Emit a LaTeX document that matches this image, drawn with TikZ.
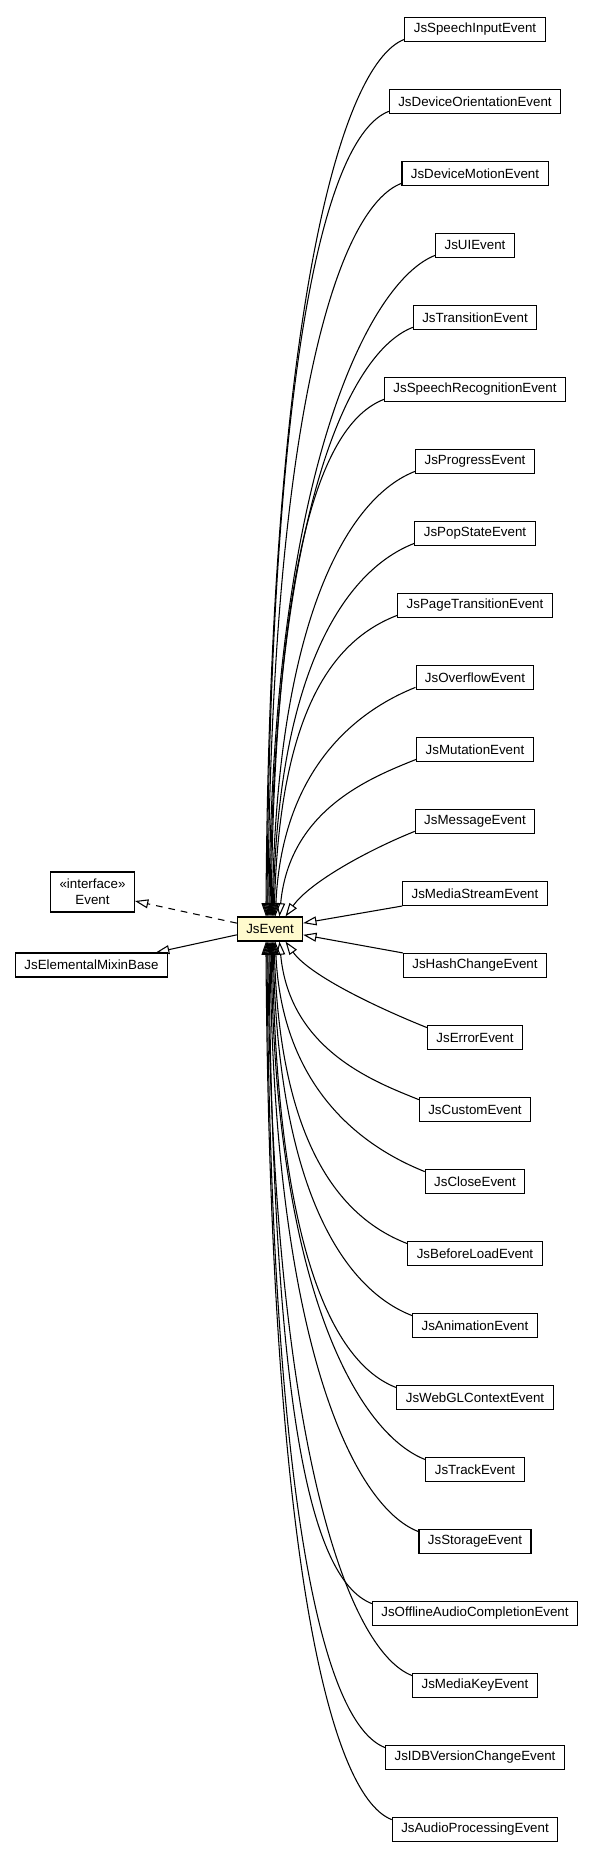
\documentclass[tikz,border=0pt]{standalone}
\usepackage{fontspec}
\setmainfont{Liberation Sans}
\usetikzlibrary{arrows.meta}
\definecolor{EVFocus}{HTML}{FFFACD}

\begin{document}
\begin{tikzpicture}[x=0.75pt,y=0.75pt,
  cls/.style={draw,line width=0.8pt,inner xsep=6.7pt,inner ysep=0pt,minimum height=18pt},
  ext/.style={line width=0.8pt,-{Triangle[open,length=10pt,width=6.7pt]}},
  impl/.style={ext,dash pattern=on 5pt off 4.5pt}]
\path[use as bounding box] (0,0) rectangle (593,1859);
% centre class and its parents
\node[cls,fill=EVFocus] (jsEvent) at (270,930) {JsEvent};
\node[cls,align=center,minimum height=30pt] (ifEvent) at (92.5,967) {«interface»\\Event};
\node[cls] (mixinBase) at (91.5,894) {JsElementalMixinBase};
\draw[impl] (jsEvent.170) -- (ifEvent.348);
\draw[ext] (jsEvent.190) -- (mixinBase.11);
% subclasses, one column
\node[cls] (speechInput) at (475,1829.5) {JsSpeechInputEvent};
\node[cls] (deviceOrient) at (475,1757.5) {JsDeviceOrientationEvent};
\node[cls] (deviceMotion) at (475,1685.5) {JsDeviceMotionEvent};
\node[cls] (uiEvent) at (475,1613.5) {JsUIEvent};
\node[cls] (transition) at (475,1541.5) {JsTransitionEvent};
\node[cls] (speechRecog) at (475,1469.5) {JsSpeechRecognitionEvent};
\node[cls] (progress) at (475,1397.5) {JsProgressEvent};
\node[cls] (popState) at (475,1325.5) {JsPopStateEvent};
\node[cls] (pageTrans) at (475,1253.5) {JsPageTransitionEvent};
\node[cls] (overflow) at (475,1181.5) {JsOverflowEvent};
\node[cls] (mutation) at (475,1109.5) {JsMutationEvent};
\node[cls] (message) at (475,1037.5) {JsMessageEvent};
\node[cls] (mediaStream) at (475,965.5) {JsMediaStreamEvent};
\node[cls] (hashChange) at (475,893.5) {JsHashChangeEvent};
\node[cls] (error) at (475,821.5) {JsErrorEvent};
\node[cls] (custom) at (475,749.5) {JsCustomEvent};
\node[cls] (close) at (475,677.5) {JsCloseEvent};
\node[cls] (beforeLoad) at (475,605.5) {JsBeforeLoadEvent};
\node[cls] (animation) at (475,533.5) {JsAnimationEvent};
\node[cls] (webGL) at (475,461.5) {JsWebGLContextEvent};
\node[cls] (track) at (475,389.5) {JsTrackEvent};
\node[cls] (storage) at (475,317.5) {JsStorageEvent};
\node[cls] (offlineAudio) at (475,245.5) {JsOfflineAudioCompletionEvent};
\node[cls] (mediaKey) at (475,173.5) {JsMediaKeyEvent};
\node[cls] (idbVersion) at (475,101.5) {JsIDBVersionChangeEvent};
\node[cls] (audioProc) at (475,29.5) {JsAudioProcessingEvent};
% upper edges
\draw[ext] ([yshift=2pt]speechInput.south west) .. controls +(-65,-25) and +(4,597) .. (jsEvent.108);
\draw[ext] ([yshift=2pt]deviceOrient.south west) .. controls +(-65,-25) and +(4,548) .. (jsEvent.104);
\draw[ext] ([yshift=2pt]deviceMotion.south west) .. controls +(-65,-25) and +(4,499) .. (jsEvent.100);
\draw[ext] ([yshift=2pt]uiEvent.south west) .. controls +(-65,-25) and +(4,450) .. (jsEvent.95);
\draw[ext] ([yshift=2pt]transition.south west) .. controls +(-65,-25) and +(4,401) .. (jsEvent.90);
\draw[ext] ([yshift=2pt]speechRecog.south west) .. controls +(-65,-25) and +(4,352) .. (jsEvent.85);
\draw[ext] ([yshift=2pt]progress.south west) .. controls +(-65,-25) and +(5,303) .. (jsEvent.80);
\draw[ext] ([yshift=2pt]popState.south west) .. controls +(-65,-25) and +(5,254) .. (jsEvent.76);
\draw[ext] ([yshift=2pt]pageTrans.south west) .. controls +(-65,-25) and +(6,205) .. (jsEvent.72);
\draw[ext] ([yshift=2pt]overflow.south west) .. controls +(-50,-20) and +(7,156) .. (jsEvent.67);
\draw[ext] ([yshift=2pt]mutation.south west) .. controls +(-45,-18) and +(10,107) .. (jsEvent.53);
\draw[ext] ([yshift=2pt]message.south west) .. controls +(-45,-18) and +(25,35) .. (jsEvent.39);
% side edges
\draw[ext] (mediaStream.south west) -- (jsEvent.10);
\draw[ext] (hashChange.north west) -- (jsEvent.350);
% lower edges
\draw[ext] ([yshift=-2pt]error.north west) .. controls +(-45,18) and +(25,-35) .. (jsEvent.321);
\draw[ext] ([yshift=-2pt]custom.north west) .. controls +(-45,18) and +(10,-108) .. (jsEvent.307);
\draw[ext] ([yshift=-2pt]close.north west) .. controls +(-50,20) and +(7,-157) .. (jsEvent.293);
\draw[ext] ([yshift=-2pt]beforeLoad.north west) .. controls +(-65,25) and +(6,-206) .. (jsEvent.288);
\draw[ext] ([yshift=-2pt]animation.north west) .. controls +(-65,25) and +(5,-255) .. (jsEvent.284);
\draw[ext] ([yshift=-2pt]webGL.north west) .. controls +(-65,25) and +(5,-304) .. (jsEvent.280);
\draw[ext] ([yshift=-2pt]track.north west) .. controls +(-65,25) and +(4,-353) .. (jsEvent.275);
\draw[ext] ([yshift=-2pt]storage.north west) .. controls +(-65,25) and +(4,-402) .. (jsEvent.270);
\draw[ext] ([yshift=-2pt]offlineAudio.north west) .. controls +(-65,25) and +(4,-451) .. (jsEvent.265);
\draw[ext] ([yshift=-2pt]mediaKey.north west) .. controls +(-65,25) and +(4,-500) .. (jsEvent.260);
\draw[ext] ([yshift=-2pt]idbVersion.north west) .. controls +(-65,25) and +(4,-549) .. (jsEvent.256);
\draw[ext] ([yshift=-2pt]audioProc.north west) .. controls +(-65,25) and +(4,-598) .. (jsEvent.252);
\end{tikzpicture}
\end{document}
